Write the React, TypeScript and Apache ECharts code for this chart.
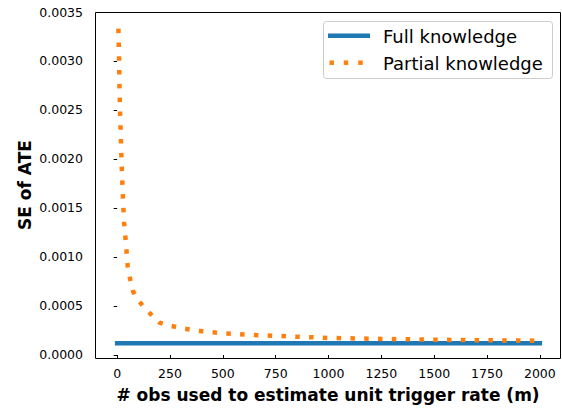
import React, { useEffect, useRef } from "react";
import * as echarts from "echarts";

const fullM = [0, 2000];
const fullSE = [0.00012, 0.00012];

const partialM = [6, 9, 11, 14, 18, 22, 27, 33, 40, 50, 60, 75, 100, 125, 150, 200, 250, 300, 400, 500, 600, 750, 1000, 1250, 1500, 1750, 2000];
const partialSE = [
  0.00333, 0.00304, 0.00276, 0.00248, 0.00218, 0.00191, 0.00162, 0.00135, 0.00118, 0.00091,
  0.00079, 0.00065, 0.00056, 0.00049, 0.000436, 0.00033, 0.0003, 0.000274, 0.000243, 0.000222,
  0.000208, 0.000195, 0.000174, 0.000164, 0.000156, 0.00015, 0.000146,
];

const xTicks = [0, 250, 500, 750, 1000, 1250, 1500, 1750, 2000];
const yTicks = [0, 0.0005, 0.001, 0.0015, 0.002, 0.0025, 0.003, 0.0035];

const seriesNames = ["Full knowledge", "Partial knowledge"];
const xTitle = "# obs used to estimate unit trigger rate (m)";
const yTitle = "SE of ATE";

const BLUE = "#1f77b4";
const ORANGE = "#ff7f0e";
const FONT = "DejaVu Sans";

export default function App() {
  const ref = useRef<HTMLDivElement>(null);
  useEffect(() => {
    if (!ref.current) return;
    const chart = echarts.init(ref.current, null, { renderer: "svg" });
    chart.setOption({
      animation: false,
      backgroundColor: "#ffffff",
      grid: { left: 96, right: 1, top: 12, bottom: 49.3, containLabel: false },
      xAxis: {
        type: "value",
        min: -100,
        max: 2100,
        axisLine: { show: false },
        axisTick: { show: true, length: 3.5, customValues: xTicks, lineStyle: { color: "#000", width: 1 } },
        axisLabel: {
          color: "#000",
          fontFamily: FONT,
          fontSize: 12.5,
          margin: 8.5,
          customValues: xTicks,
          formatter: (v: number) => String(v),
        },
        splitLine: { show: false },
      },
      yAxis: {
        type: "value",
        min: -0.000038,
        max: 0.0035,
        axisLine: { show: false },
        axisTick: { show: true, length: 3.5, customValues: yTicks, lineStyle: { color: "#000", width: 1 } },
        axisLabel: {
          color: "#000",
          fontFamily: FONT,
          fontSize: 12.5,
          margin: 13,
          customValues: yTicks,
          formatter: (v: number) => v.toFixed(4),
        },
        splitLine: { show: false },
      },
      series: [
        {
          name: seriesNames[0],
          type: "line",
          data: fullM.map((m, i) => [m, fullSE[i]]),
          showSymbol: false,
          symbol: "none",
          clip: false,
          lineStyle: { color: BLUE, width: 4.5, cap: "square" },
          z: 2,
        },
        {
          name: seriesNames[1],
          type: "line",
          data: partialM.map((m, i) => [m, partialSE[i]]),
          showSymbol: false,
          symbol: "none",
          clip: false,
          lineStyle: { color: ORANGE, width: 4.5, type: [4.5, 9.3], cap: "butt" },
          z: 3,
        },
      ],
      graphic: [
        {
          type: "rect",
          shape: { x: 95.5, y: 12.5, width: 465, height: 346 },
          style: { fill: "none", stroke: "#000", lineWidth: 1 },
          z: 10,
        },
        {
          type: "rect",
          shape: { x: 323.5, y: 21.5, width: 229, height: 57, r: 3 },
          style: { fill: "rgba(255,255,255,0.8)", stroke: "#cccccc", lineWidth: 1 },
          z: 11,
        },
        {
          type: "line",
          shape: { x1: 328, y1: 35.7, x2: 370, y2: 35.7 },
          style: { stroke: BLUE, lineWidth: 4.5 },
          z: 12,
        },
        ...[331.7, 346, 360.5].map((cx) => ({
          type: "rect",
          shape: { x: cx - 2.25, y: 62.7 - 2.25, width: 4.5, height: 4.5 },
          style: { fill: ORANGE },
          z: 12,
        })),
        {
          type: "text",
          x: 383,
          y: 36,
          style: { text: seriesNames[0], fill: "#000", font: `18px "${FONT}"`, verticalAlign: "middle", align: "left" },
          z: 12,
        },
        {
          type: "text",
          x: 383,
          y: 63,
          style: { text: seriesNames[1], fill: "#000", font: `18px "${FONT}"`, verticalAlign: "middle", align: "left" },
          z: 12,
        },
        {
          type: "text",
          x: 328,
          y: 395,
          style: { text: xTitle, fill: "#000", font: `bold 17px "${FONT}"`, verticalAlign: "middle", align: "center" },
          z: 12,
        },
        {
          type: "text",
          x: 25,
          y: 185,
          rotation: Math.PI / 2,
          style: { text: yTitle, fill: "#000", font: `bold 17px "${FONT}"`, verticalAlign: "middle", align: "center" },
          z: 12,
        },
      ],
    });
    return () => chart.dispose();
  }, []);
  return <div ref={ref} style={{ width: 562, height: 408, position: "absolute", left: 0, top: 0 }} />;
}
